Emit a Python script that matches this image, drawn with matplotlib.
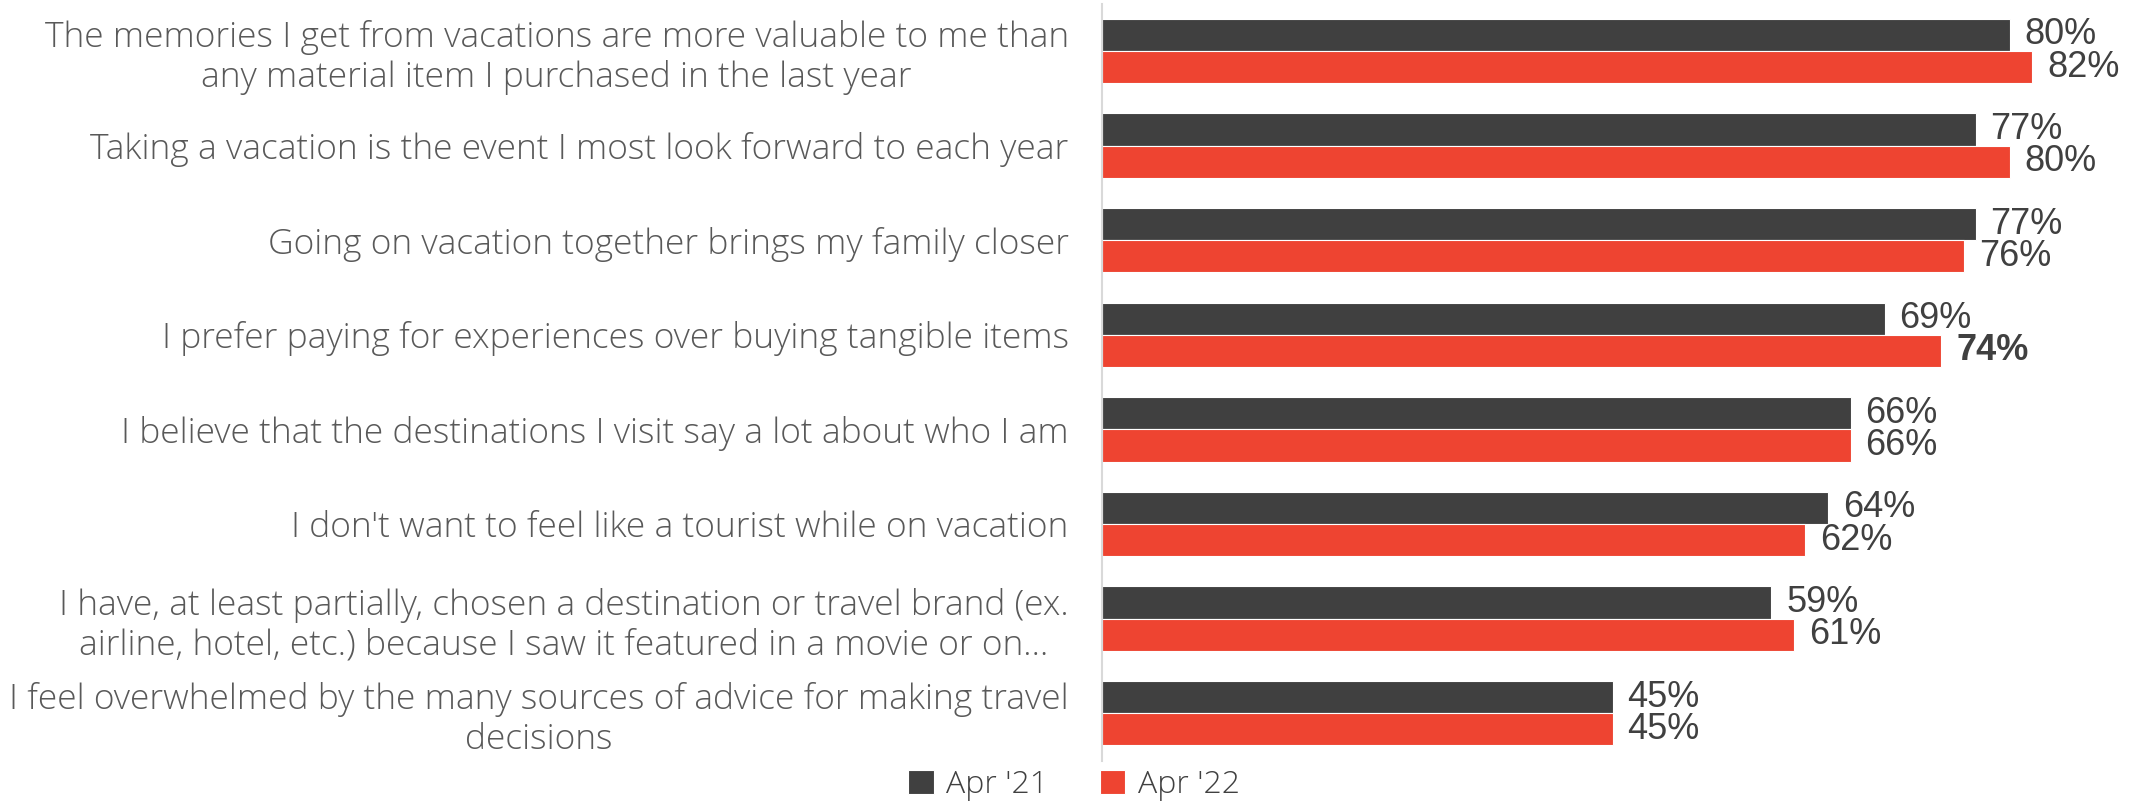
import numpy as np
import matplotlib.pyplot as plt

# -----------------------------
# Data
# -----------------------------
statements = [
    "The memories I get from vacations are more valuable to me than\nany material item I purchased in the last year",
    "Taking a vacation is the event I most look forward to each year",
    "Going on vacation together brings my family closer",
    "I prefer paying for experiences over buying tangible items",
    "I believe that the destinations I visit say a lot about who I am",
    "I don't want to feel like a tourist while on vacation",
    "I have, at least partially, chosen a destination or travel brand (ex.\nairline, hotel, etc.) because I saw it featured in a movie or on...",
    "I feel overwhelmed by the many sources of advice for making travel\ndecisions",
]
apr21 = [80, 77, 77, 69, 66, 64, 59, 45]
apr22 = [82, 80, 76, 74, 66, 62, 61, 45]
series_names = ["Apr '21", "Apr '22"]
bold_22 = [3]   # index of the highlighted Apr '22 value

# -----------------------------
# Style
# -----------------------------
dark = "#404040"
red = "#EE4431"
label_font = ["Open Sans", "DejaVu Sans"]
value_font = ["Liberation Sans", "DejaVu Sans"]

fig = plt.figure(figsize=(21.31, 8.02), dpi=100)
ax = fig.add_axes([1102 / 2131, 0.0517, 1021 / 2131, 0.9437])

y = np.arange(len(statements))
h = 0.34

b1 = ax.barh(y - h / 2, apr21, height=h, color=dark, edgecolor="white", linewidth=0.8, label=series_names[0])
b2 = ax.barh(y + h / 2, apr22, height=h, color=red, edgecolor="white", linewidth=0.8, label=series_names[1])

# value labels
for i, v in enumerate(apr21):
    ax.text(v + 1.3, y[i] - h / 2, f"{v}%", va="center", ha="left",
            fontsize=26, color=dark, family=value_font)
for i, v in enumerate(apr22):
    ax.text(v + 1.3, y[i] + h / 2, f"{v}%", va="center", ha="left",
            fontsize=26, color=dark, family=value_font,
            fontweight="bold" if i in bold_22 else "normal")

ax.set_xlim(0, 90)
ax.set_ylim(len(statements) - 0.5, -0.5)

ax.set_yticks(y)
ax.set_yticklabels(statements, fontsize=25.5, color="#595959", family=label_font,
                   fontweight="light", multialignment="center", linespacing=1.2)
ax.tick_params(axis="y", length=0, pad=24)
ax.set_xticks([])

for s in ["top", "right", "bottom"]:
    ax.spines[s].set_visible(False)
ax.spines["left"].set_color("#d9d9d9")
ax.spines["left"].set_linewidth(1.5)

leg = fig.legend(handles=[b1, b2], labels=series_names, loc="center",
                 bbox_to_anchor=(0.504, 0.021), ncol=2, frameon=False,
                 handlelength=0.8, handleheight=0.8, handletextpad=0.4,
                 columnspacing=1.6,
                 prop={"family": label_font, "size": 23, "weight": "light"})
for t in leg.get_texts():
    t.set_color("#404040")

fig.savefig("out.png", dpi=100)
